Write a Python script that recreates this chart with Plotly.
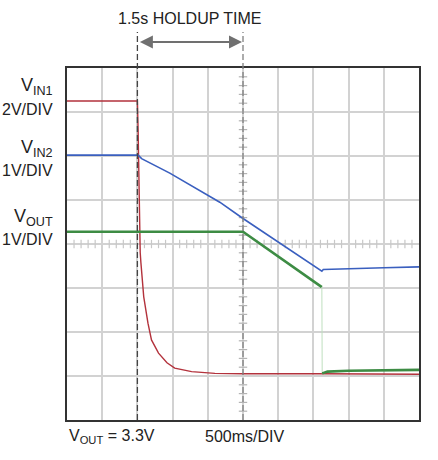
import numpy as np
import plotly.graph_objects as go

# Scope traces, time in seconds (500ms/div), level in screen divisions (0-8)
vin1_t = [0, 1.0, 1.01, 1.025, 1.04, 1.05, 1.09, 1.15, 1.20, 1.30, 1.42, 1.53, 1.77, 2.10, 2.50, 3.60, 5.0]
vin1_v = [7.25, 7.25, 6.6, 4.9, 3.8, 3.57, 2.80, 2.20, 1.82, 1.52, 1.30, 1.18, 1.10, 1.06, 1.05, 1.05, 1.04]

vin2_t = [0, 1.01, 1.06, 1.46, 2.17, 2.50, 3.62, 3.64, 4.5, 5.0]
vin2_v = [6.02, 6.02, 5.94, 5.61, 4.95, 4.58, 3.38, 3.42, 3.46, 3.48]

vout_t = [0, 2.50, 3.62]
vout_v = [4.28, 4.28, 3.02]
vout_drop_t = [3.62, 3.625]
vout_drop_v = [3.02, 1.06]
vout_after_t = [3.625, 3.70, 4.0, 5.0]
vout_after_v = [1.06, 1.10, 1.12, 1.14]

holdup_start = 1.0
holdup_end = 2.5

RED = "#b3323c"
BLUE = "#3a5fbf"
GREEN = "#3d8c44"
FONT = "Liberation Sans"

fig = go.Figure()

# center graticule tick marks
hx = [x for x in np.arange(0.1, 5.0, 0.1) if abs(x / 0.5 - round(x / 0.5)) > 1e-6]
fig.add_trace(go.Scatter(x=hx, y=[4] * len(hx), mode="markers", hoverinfo="skip",
                         marker=dict(symbol="line-ns-open", size=6, color="#c8c8c8",
                                     line=dict(color="#c8c8c8", width=1.2)),
                         showlegend=False))
vy = [y for y in np.arange(0.2, 8.0, 0.2) if abs(y - round(y)) > 1e-6]
fig.add_trace(go.Scatter(x=[holdup_end] * len(vy), y=vy, mode="markers", hoverinfo="skip",
                         marker=dict(symbol="line-ew-open", size=6, color="#b4b4b4",
                                     line=dict(color="#b4b4b4", width=1.2)),
                         showlegend=False))

fig.add_trace(go.Scatter(x=vin1_t, y=vin1_v, mode="lines", line=dict(color=RED, width=1.4), showlegend=False))
fig.add_trace(go.Scatter(x=vin2_t, y=vin2_v, mode="lines", line=dict(color=BLUE, width=1.6), showlegend=False))
fig.add_trace(go.Scatter(x=vout_t, y=vout_v, mode="lines", line=dict(color=GREEN, width=2.6), showlegend=False))
fig.add_trace(go.Scatter(x=vout_drop_t, y=vout_drop_v, mode="lines", line=dict(color="#bfe0bf", width=1), showlegend=False))
fig.add_trace(go.Scatter(x=vout_after_t, y=vout_after_v, mode="lines", line=dict(color=GREEN, width=2.6), showlegend=False))

# dashed holdup markers, running up above the frame
fig.add_shape(type="line", xref="x", yref="paper", x0=holdup_start, x1=holdup_start, y0=0, y1=1.102,
              line=dict(color="#444444", width=1.3, dash="6px,3px"), layer="above")
fig.add_shape(type="line", xref="x", yref="paper", x0=holdup_end, x1=holdup_end, y0=0, y1=1.102,
              line=dict(color="#808080", width=1.3, dash="6px,3px"), layer="above")

# double arrow for holdup time
fig.add_annotation(x=holdup_end, y=1.074, xref="x", yref="paper", ax=holdup_start, ay=0,
                   axref="x", ayref="pixel", text="", showarrow=True, arrowside="end+start",
                   arrowhead=2, arrowsize=1.3, arrowwidth=2, arrowcolor="#707070",
                   standoff=1, startstandoff=1)
fig.add_annotation(x=0.348, y=1.142, xref="paper", yref="paper", text="1.5s HOLDUP TIME",
                   showarrow=False, xanchor="center", yanchor="middle",
                   font=dict(family=FONT, size=16, color="#222222"))

names = [("V<sub>IN1</sub>", 7.58), ("V<sub>IN2</sub>", 6.17), ("V<sub>OUT</sub>", 4.6)]
scales = [("2V/DIV", 7.05), ("1V/DIV", 5.68), ("1V/DIV", 4.11)]
for txt, yv in names:
    fig.add_annotation(x=-0.034, y=yv, xref="paper", yref="y", text=txt, showarrow=False,
                       xanchor="right", yanchor="middle",
                       font=dict(family=FONT, size=18, color="#222222"))
for txt, yv in scales:
    fig.add_annotation(x=-0.034, y=yv, xref="paper", yref="y", text=txt, showarrow=False,
                       xanchor="right", yanchor="middle",
                       font=dict(family=FONT, size=16, color="#222222"))

fig.add_annotation(x=0.0, y=-0.048, xref="paper", yref="paper", text="V<sub>OUT</sub> = 3.3V",
                   showarrow=False, xanchor="left", yanchor="middle",
                   font=dict(family=FONT, size=16, color="#222222"))
fig.add_annotation(x=0.386, y=-0.048, xref="paper", yref="paper", text="500ms/DIV",
                   showarrow=False, xanchor="left", yanchor="middle",
                   font=dict(family=FONT, size=16, color="#222222"))

fig.update_xaxes(range=[0, 5], dtick=0.5, showgrid=True, gridcolor="#d2d2d2", gridwidth=1.5,
                 showticklabels=False, zeroline=False, showline=True, linecolor="#333333",
                 linewidth=2, mirror=True, ticks="")
fig.update_yaxes(range=[0, 8], dtick=1, showgrid=True, gridcolor="#d2d2d2", gridwidth=1.5,
                 showticklabels=False, zeroline=False, showline=True, linecolor="#333333",
                 linewidth=2, mirror=True, ticks="")

fig.update_layout(width=438, height=460, margin=dict(l=67, r=19, t=68, b=40),
                  paper_bgcolor="white", plot_bgcolor="white", showlegend=False)

# drop the browser's default body margin so the figure sits at the window corner
fig.write_html("out.html", config={"displayModeBar": False},
               post_script="document.body.style.margin='0';document.body.style.overflow='hidden';")
